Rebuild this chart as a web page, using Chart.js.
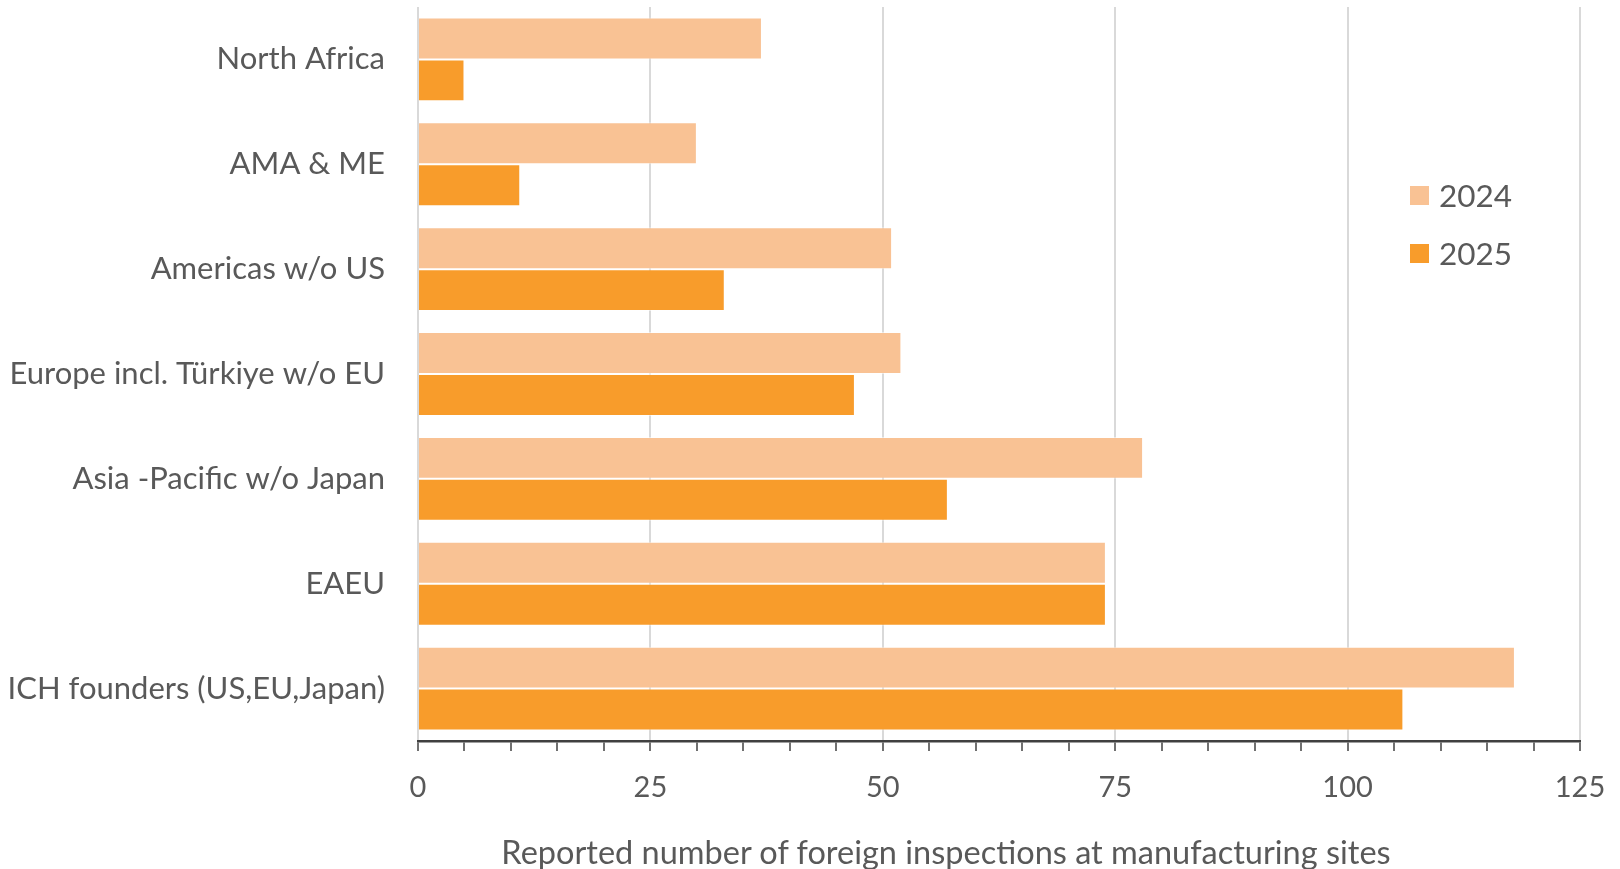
<!DOCTYPE html>
<html>
<head>
<meta charset="utf-8">
<script src="https://cdn.jsdelivr.net/npm/chart.js@4.4.1/dist/chart.umd.min.js"></script>
<style>
  html, body { margin: 0; padding: 0; background: #fff; }
  #wrap { position: relative; width: 1620px; height: 869px; }
  #legend { position: absolute; left: 1410px; top: 166px; font-family: Lato, sans-serif; font-size: 31.5px; color: #595959; }
  #legend .item { display: flex; align-items: center; height: 58px; }
  #legend .sw { width: 19px; height: 19px; margin-right: 10px; }
  #xtitle { position: absolute; left: 946px; top: 852px; transform: translate(-50%, -50%); white-space: nowrap;
            font-family: Lato, sans-serif; font-size: 32.5px; line-height: 1; color: #595959; }
</style>
</head>
<body>
<div id="wrap">
  <canvas id="c" width="1620" height="869"></canvas>
  <div id="legend"></div>
  <div id="xtitle"></div>
</div>
<script>
const categories = ["North Africa", "AMA & ME", "Americas w/o US", "Europe incl. Türkiye w/o EU", "Asia -Pacific w/o Japan", "EAEU", "ICH founders (US,EU,Japan)"];
const seriesNames = ["2024", "2025"];
const values2024 = [37, 30, 51, 52, 78, 74, 118];
const values2025 = [5, 11, 33, 47, 57, 74, 106];
const colors = ["#F9C294", "#F89C2B"];
const xAxisTitle = "Reported number of foreign inspections at manufacturing sites";

const FONT = 'Lato, sans-serif';
const TXT = "#595959";

const chart = new Chart(document.getElementById("c"), {
  type: "bar",
  data: {
    labels: categories,
    datasets: [
      { label: seriesNames[0], data: values2024, backgroundColor: colors[0], borderColor: "rgba(255,255,255,0.5)", borderWidth: 1, categoryPercentage: 0.8, barPercentage: 1.0 },
      { label: seriesNames[1], data: values2025, backgroundColor: colors[1], borderColor: "rgba(255,255,255,0.5)", borderWidth: 1, categoryPercentage: 0.8, barPercentage: 1.0 }
    ]
  },
  options: {
    indexAxis: "y",
    responsive: false,
    animation: false,
    devicePixelRatio: 1,
    layout: { padding: { top: 7, right: 40, bottom: 0, left: 0 } },
    plugins: { legend: { display: false }, tooltip: { enabled: false } },
    scales: {
      x: {
        min: 0, max: 125,
        ticks: {
          stepSize: 5, autoSkip: false, maxRotation: 0,
          color: TXT, font: { family: FONT, size: 29 }, padding: 19,
          callback: v => (v % 25 === 0 ? String(v) : "")
        },
        grid: {
          color: ctx => (ctx.tick && ctx.tick.value % 25 === 0 ? "#d9d9d9" : "rgba(0,0,0,0)"),
          lineWidth: 2,
          tickColor: "#404040",
          tickLength: 10,
          tickWidth: 1.5
        },
        border: { display: true, color: "#404040", width: 2.5 },
        title: { display: false, text: xAxisTitle },
        afterFit: s => { s.height = 128; s.paddingLeft = 0; s.paddingRight = 0; }
      },
      y: {
        ticks: { color: TXT, font: { family: FONT, size: 31 }, padding: 33 },
        grid: { display: false, drawTicks: false },
        border: { display: false },
        afterFit: s => { s.width = 418; s.paddingTop = 0; s.paddingBottom = 0; }
      }
    }
  }
});

document.getElementById("xtitle").textContent = xAxisTitle;
const lg = document.getElementById("legend");
seriesNames.forEach((n, i) => {
  const d = document.createElement("div"); d.className = "item";
  const sw = document.createElement("div"); sw.className = "sw"; sw.style.background = colors[i];
  const t = document.createElement("span"); t.textContent = n;
  d.appendChild(sw); d.appendChild(t); lg.appendChild(d);
});
</script>
</body>
</html>
